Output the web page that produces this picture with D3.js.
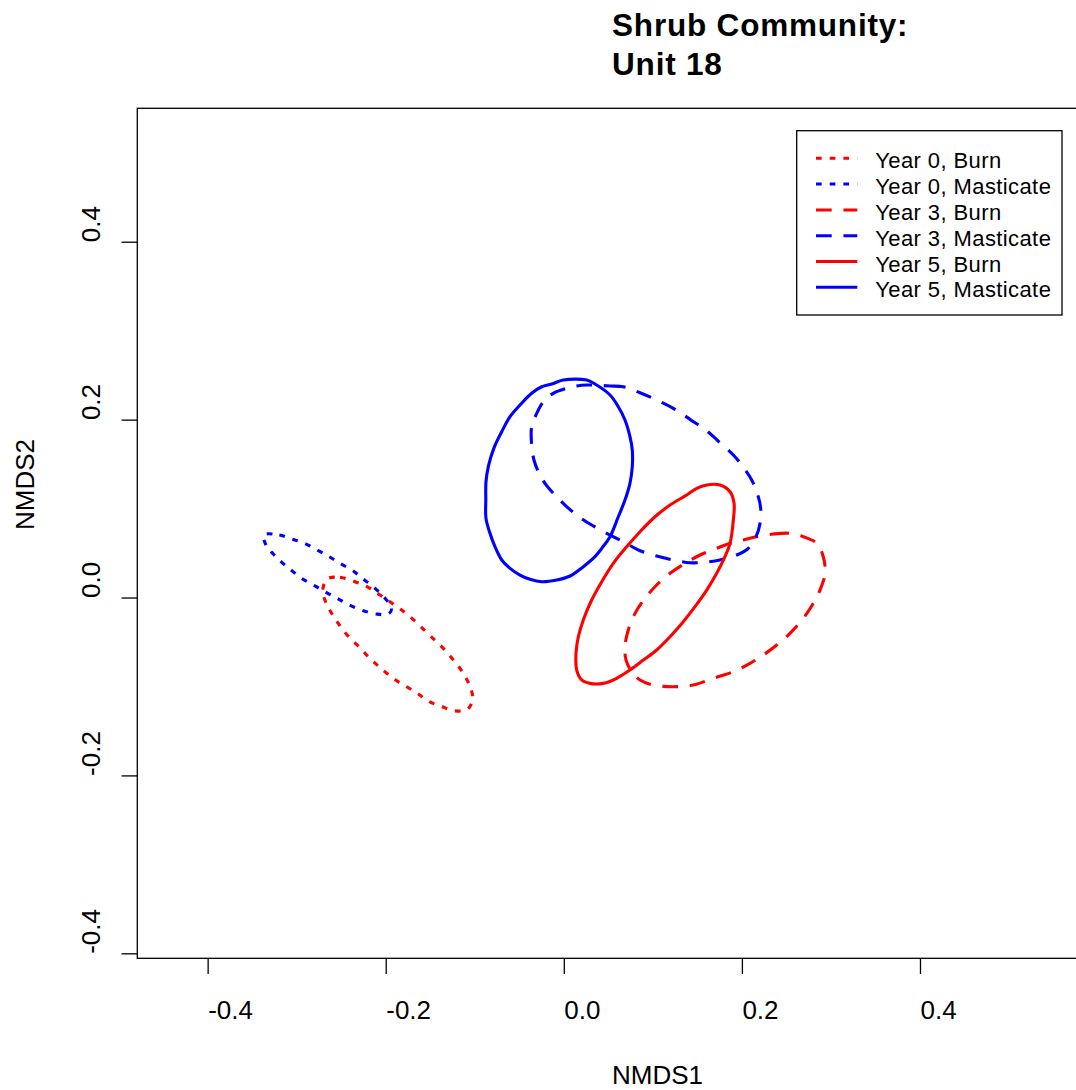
<!DOCTYPE html>
<html>
<head>
<meta charset="utf-8">
<script src="https://cdn.jsdelivr.net/npm/d3@7"></script>
<style>
  html, body { margin: 0; padding: 0; background: #fff; }
  svg { display: block; font-family: "Liberation Sans", Arial, sans-serif; }
</style>
</head>
<body>
<svg id="chart" width="1076" height="1090"></svg>
<script>
// Ordination ellipses, NMDS site scores (NMDS1, NMDS2) per treatment group
const year0Burn = [
  [-0.2656, 0.0208], [-0.2513, 0.0227], [-0.2345, 0.0178], [-0.2196, 0.0115], [-0.2064, 0.0028],
  [-0.1952, -0.0047], [-0.1832, -0.0133], [-0.1697, -0.0242], [-0.1559, -0.0373], [-0.1458, -0.0470],
  [-0.1353, -0.0571], [-0.1233, -0.0711], [-0.1129, -0.0852], [-0.1053, -0.1003], [-0.1023, -0.1144],
  [-0.1084, -0.1257], [-0.1233, -0.1273], [-0.1383, -0.1220], [-0.1511, -0.1171], [-0.1634, -0.1085],
  [-0.1764, -0.1003], [-0.1877, -0.0935], [-0.1989, -0.0852], [-0.2095, -0.0759], [-0.2196, -0.0666],
  [-0.2289, -0.0564], [-0.2401, -0.0459], [-0.2506, -0.0328], [-0.2589, -0.0208], [-0.2663, -0.0076],
  [-0.2708, 0.0073]
];
const year0Masticate = [
  [-0.3367, 0.0703], [-0.3195, 0.0703], [-0.3064, 0.0661], [-0.2926, 0.0616], [-0.2768, 0.0534],
  [-0.2634, 0.0459], [-0.2513, 0.0384], [-0.2364, 0.0298], [-0.2252, 0.0208], [-0.2120, 0.0103],
  [-0.2008, -0.0009], [-0.1933, -0.0121], [-0.1971, -0.0185], [-0.2109, -0.0185], [-0.2252, -0.0148],
  [-0.2409, -0.0084], [-0.2544, -0.0009], [-0.2682, 0.0065], [-0.2813, 0.0141], [-0.2944, 0.0216],
  [-0.3064, 0.0309], [-0.3168, 0.0396], [-0.3263, 0.0489], [-0.3345, 0.0590]
];
const year3Burn = [
  [0.2166, 0.0684], [0.2353, 0.0714], [0.2540, 0.0722], [0.2690, 0.0684], [0.2840, 0.0609],
  [0.2914, 0.0459], [0.2934, 0.0272], [0.2877, 0.0084], [0.2802, -0.0065], [0.2690, -0.0234],
  [0.2540, -0.0402], [0.2391, -0.0534], [0.2241, -0.0646], [0.2091, -0.0740], [0.1904, -0.0834],
  [0.1679, -0.0908], [0.1454, -0.0984], [0.1230, -0.1003], [0.1005, -0.0984], [0.0856, -0.0927],
  [0.0763, -0.0834], [0.0699, -0.0703], [0.0687, -0.0553], [0.0724, -0.0365], [0.0800, -0.0178],
  [0.0912, -0.0009], [0.1043, 0.0141], [0.1193, 0.0272], [0.1361, 0.0384], [0.1530, 0.0478],
  [0.1717, 0.0553], [0.1867, 0.0609], [0.2016, 0.0646]
];
const year3Masticate = [
  [0.0257, 0.2389], [0.0519, 0.2378], [0.0668, 0.2370], [0.0856, 0.2302], [0.1043, 0.2220],
  [0.1230, 0.2127], [0.1417, 0.2003], [0.1605, 0.1875], [0.1754, 0.1740], [0.1904, 0.1602],
  [0.2016, 0.1464], [0.2110, 0.1321], [0.2173, 0.1171], [0.2211, 0.1003], [0.2204, 0.0834],
  [0.2159, 0.0684], [0.2072, 0.0553], [0.1942, 0.0478], [0.1754, 0.0422], [0.1567, 0.0396],
  [0.1417, 0.0391], [0.1230, 0.0422], [0.1043, 0.0467], [0.0856, 0.0526], [0.0668, 0.0627],
  [0.0482, 0.0722], [0.0294, 0.0826], [0.0145, 0.0927], [0.0013, 0.1040], [-0.0099, 0.1152],
  [-0.0211, 0.1284], [-0.0286, 0.1414], [-0.0335, 0.1546], [-0.0361, 0.1714], [-0.0361, 0.1920],
  [-0.0304, 0.2071], [-0.0230, 0.2201], [-0.0118, 0.2296], [0.0033, 0.2352], [0.0145, 0.2378]
];
const year5Burn = [
  [0.1605, 0.1265], [0.1754, 0.1265], [0.1867, 0.1189], [0.1912, 0.1059], [0.1904, 0.0871],
  [0.1867, 0.0609], [0.1810, 0.0459], [0.1717, 0.0272], [0.1605, 0.0084], [0.1473, -0.0103],
  [0.1342, -0.0272], [0.1193, -0.0441], [0.1043, -0.0590], [0.0893, -0.0703], [0.0743, -0.0815],
  [0.0594, -0.0908], [0.0444, -0.0965], [0.0294, -0.0965], [0.0201, -0.0927], [0.0145, -0.0815],
  [0.0137, -0.0627], [0.0163, -0.0441], [0.0219, -0.0253], [0.0313, -0.0028], [0.0426, 0.0178],
  [0.0556, 0.0384], [0.0706, 0.0571], [0.0856, 0.0740], [0.1024, 0.0908], [0.1193, 0.1040],
  [0.1380, 0.1152], [0.1493, 0.1228]
];
const year5Masticate = [
  [-0.0006, 0.2445], [0.0257, 0.2445], [0.0350, 0.2400], [0.0519, 0.2277], [0.0612, 0.2145],
  [0.0687, 0.1996], [0.0743, 0.1808], [0.0769, 0.1658], [0.0769, 0.1470], [0.0743, 0.1284],
  [0.0687, 0.1096], [0.0612, 0.0908], [0.0519, 0.0684], [0.0426, 0.0553], [0.0350, 0.0459],
  [0.0219, 0.0346], [0.0070, 0.0242], [-0.0080, 0.0197], [-0.0248, 0.0178], [-0.0380, 0.0205],
  [-0.0492, 0.0253], [-0.0604, 0.0328], [-0.0697, 0.0422], [-0.0773, 0.0571], [-0.0829, 0.0722],
  [-0.0874, 0.0890], [-0.0876, 0.1096], [-0.0874, 0.1302], [-0.0846, 0.1480], [-0.0785, 0.1680],
  [-0.0697, 0.1864], [-0.0604, 0.2033], [-0.0492, 0.2164], [-0.0361, 0.2296], [-0.0248, 0.2370],
  [-0.0136, 0.2400]
];

// Groups in legend order
const groupLabels = ["Year 0, Burn", "Year 0, Masticate", "Year 3, Burn", "Year 3, Masticate", "Year 5, Burn", "Year 5, Masticate"];
const groupYears = [0, 0, 3, 3, 5, 5];
const groupTreatments = ["Burn", "Masticate", "Burn", "Masticate", "Burn", "Masticate"];
const groupOutlines = [year0Burn, year0Masticate, year3Burn, year3Masticate, year5Burn, year5Masticate];

// Axis ticks
const xTicks = [-0.4, -0.2, 0.0, 0.2, 0.4];
const xTickLabels = ["-0.4", "-0.2", "0.0", "0.2", "0.4"];
const yTicks = [-0.4, -0.2, 0.0, 0.2, 0.4];
const yTickLabels = ["-0.4", "-0.2", "0.0", "0.2", "0.4"];

const titleLines = ["Shrub Community:", "Unit 18"];
const xTitle = "NMDS1";
const yTitle = "NMDS2";

// ---- styling ----
const treatmentColor = { Burn: "#ff0000", Masticate: "#0000ff" };
const yearDash = { 0: "5.7,8", 3: "15.7,11.7", 5: null };

const plot = { left: 137.3, right: 1088, top: 108.3, bottom: 958.3 };

const svg = d3.select("#chart");

const x = d3.scaleLinear().domain([-0.479, 0.5887]).range([plot.left, plot.right]);
const y = d3.scaleLinear().domain([-0.4056, 0.55]).range([plot.bottom, plot.top]);

// Title (two bold lines)
svg.append("g").selectAll("text").data(titleLines).join("text")
  .attr("x", (plot.left + plot.right) / 2 - 0.6)
  .attr("y", (d, i) => 36 + i * 39)
  .attr("font-size", 31.5)
  .attr("font-weight", "bold")
  .attr("letter-spacing", 0.8)
  .attr("fill", "#000")
  .text(d => d);

// X axis
const xAxis = svg.append("g")
  .attr("transform", `translate(0,${plot.bottom})`)
  .call(d3.axisBottom(x).tickValues(xTicks).tickFormat((d, i) => xTickLabels[i]).tickSize(15.7));
xAxis.select(".domain").remove();
xAxis.selectAll(".tick line").attr("stroke", "#000").attr("stroke-width", 1.3);
xAxis.selectAll(".tick text")
  .attr("y", 60.7).attr("dy", null)
  .attr("text-anchor", "start")
  .attr("font-size", 26)
  .attr("font-family", null)
  .attr("fill", "#000");

// Y axis
const yAxis = svg.append("g")
  .attr("transform", `translate(${plot.left},0)`)
  .call(d3.axisLeft(y).tickValues(yTicks).tickFormat((d, i) => yTickLabels[i]).tickSize(15.7));
yAxis.select(".domain").remove();
yAxis.selectAll(".tick line").attr("stroke", "#000").attr("stroke-width", 1.3);
yAxis.selectAll(".tick text")
  .attr("x", null).attr("y", null).attr("dy", null)
  .attr("transform", "translate(-37.3,0) rotate(-90)")
  .attr("text-anchor", "start")
  .attr("font-size", 26)
  .attr("font-family", null)
  .attr("fill", "#000");

// Frame (right side extends past the page edge)
svg.append("rect")
  .attr("x", plot.left).attr("y", plot.top)
  .attr("width", plot.right - plot.left).attr("height", plot.bottom - plot.top)
  .attr("fill", "none").attr("stroke", "#000").attr("stroke-width", 1.3);

// Axis titles
svg.append("text")
  .attr("x", (plot.left + plot.right) / 2 - 0.6).attr("y", 1084)
  .attr("font-size", 26).attr("fill", "#000")
  .text(xTitle);
svg.append("text")
  .attr("transform", `translate(33.5,530) rotate(-90)`)
  .attr("font-size", 26).attr("fill", "#000")
  .text(yTitle);

// Ellipses
const outline = d3.line()
  .x(d => x(d[0])).y(d => y(d[1]))
  .curve(d3.curveCatmullRomClosed.alpha(0.5));

svg.append("g").selectAll("path")
  .data(groupOutlines.map((pts, i) => ({ pts, i })))
  .join("path")
  .attr("d", d => outline(d.pts))
  .attr("fill", "none")
  .attr("stroke", d => treatmentColor[groupTreatments[d.i]])
  .attr("stroke-width", 3.1)
  .attr("stroke-linejoin", "round")
  .attr("stroke-dasharray", d => yearDash[groupYears[d.i]]);

// Legend
const legend = svg.append("g");
legend.append("rect")
  .attr("x", 796.7).attr("y", 130.7)
  .attr("width", 265.3).attr("height", 184.3)
  .attr("fill", "#fff").attr("stroke", "#000").attr("stroke-width", 1.3);

const rows = legend.selectAll("g.row").data(groupLabels).join("g")
  .attr("class", "row")
  .attr("transform", (d, i) => `translate(0,${158.3 + i * 25.8})`);
rows.append("line")
  .attr("x1", 816).attr("x2", 857.3).attr("y1", 0).attr("y2", 0)
  .attr("stroke", (d, i) => treatmentColor[groupTreatments[i]])
  .attr("stroke-width", 3)
  .attr("stroke-dasharray", (d, i) => yearDash[groupYears[i]]);
rows.append("text")
  .attr("x", 875.3).attr("y", 10)
  .attr("font-size", 22).attr("letter-spacing", 0.4).attr("fill", "#000")
  .text(d => d);
</script>
</body>
</html>
